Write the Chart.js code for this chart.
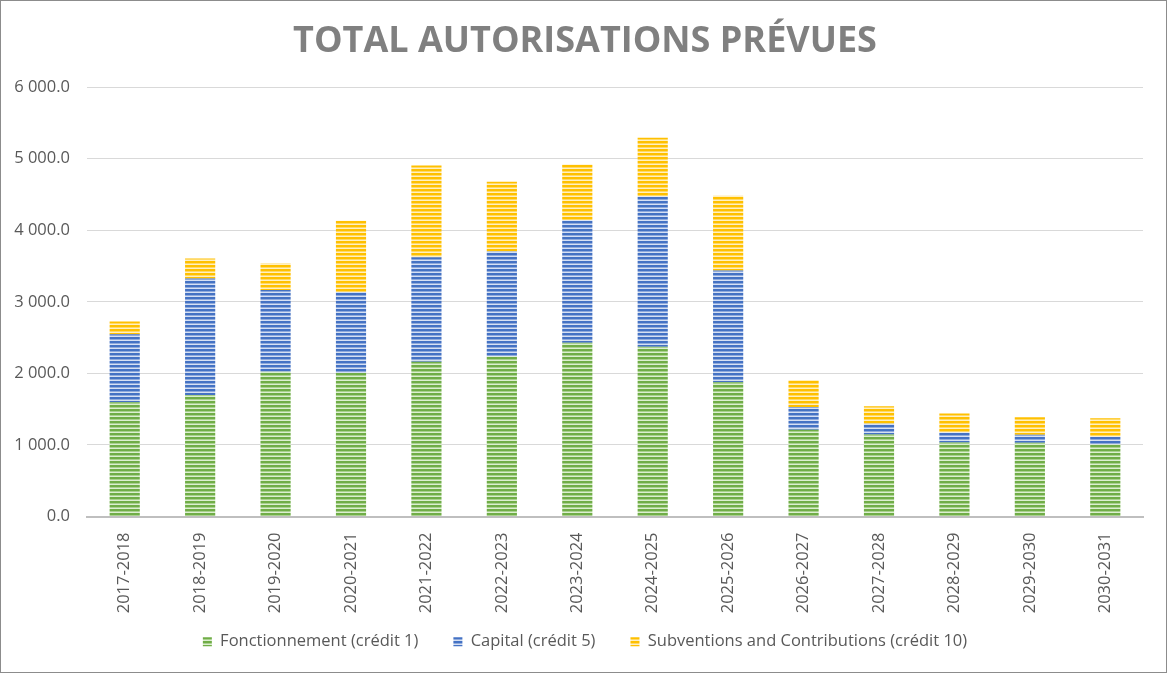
<!DOCTYPE html>
<html>
<head>
<meta charset="utf-8">
<script src="https://cdn.jsdelivr.net/npm/chart.js@4"></script>
<style>
  body { margin: 0; background: #fff; }
  #wrap { width: 1167px; height: 673px; box-sizing: border-box; border: 1px solid #8c8c8c; }
</style>
</head>
<body>
<div id="wrap"><canvas id="chart" width="1165" height="671"></canvas></div>
<script>
const periods = ['2017-2018', '2018-2019', '2019-2020', '2020-2021', '2021-2022', '2022-2023', '2023-2024',
    '2024-2025', '2025-2026', '2026-2027', '2027-2028', '2028-2029', '2029-2030', '2030-2031'];
const fonctionnement = [1597, 1698, 2023, 2005, 2162, 2237, 2427, 2371, 1875, 1211, 1146, 1035, 1030, 1007];
const capital = [951, 1629, 1142, 1132, 1462, 1466, 1712, 2102, 1564, 320, 149, 139, 111, 107];
const subventions = [177, 279, 371, 998, 1281, 975, 779, 822, 1044, 376, 246, 265, 247, 260];
const yTicks = [0, 1000, 2000, 3000, 4000, 5000, 6000];

// horizontal stripe fill, like the Excel pattern
function stripes(base, mid, light) {
    const c = document.createElement('canvas');
    c.width = 1;
    c.height = 4;
    const g = c.getContext('2d');
    g.fillStyle = base; g.fillRect(0, 0, 1, 2);
    g.fillStyle = mid; g.fillRect(0, 2, 1, 1);
    g.fillStyle = light; g.fillRect(0, 3, 1, 1);
    return g.createPattern(c, 'repeat');
}

function fmt(v) {
    return String(Math.round(v)).replace(/\B(?=(\d{3})+(?!\d))/g, ' ') + '.0';
}

// the rotated x labels run past the axis box, so don't clip them
const noLabelClip = {
    id: 'noLabelClip',
    beforeDraw(chart) {
        chart.scales.x._computeLabelArea = () => undefined;
    }
};

const grey = '#595959';
const ctx = document.querySelector('#chart').getContext('2d');

new Chart(ctx, {
    type: 'bar',
    data: {
        labels: periods,
        datasets: [
            {
                label: 'Fonctionnement (crédit 1)',
                data: fonctionnement,
                backgroundColor: stripes('#70ad47', '#a9d18e', '#dcefd0')
            },
            {
                label: 'Capital (crédit 5)',
                data: capital,
                backgroundColor: stripes('#4472c4', '#8faadc', '#d6e0f3')
            },
            {
                label: 'Subventions and Contributions (crédit 10)',
                data: subventions,
                backgroundColor: stripes('#ffc000', '#ffd966', '#fff0c2')
            }
        ]
    },
    plugins: [noLabelClip],
    options: {
        responsive: false,
        animation: false,
        categoryPercentage: 1,
        barPercentage: 0.4,
        layout: { padding: { left: 3, right: 0, top: 0, bottom: 12 } },
        plugins: {
            title: {
                display: true,
                text: 'TOTAL AUTORISATIONS PRÉVUES',
                color: '#808080',
                font: { family: 'Open Sans', size: 36, weight: 'bold' },
                padding: { top: 19, bottom: 24 }
            },
            legend: {
                position: 'bottom',
                labels: {
                    boxWidth: 9,
                    boxHeight: 9,
                    padding: 35,
                    color: grey,
                    font: { family: 'Open Sans', size: 16.5 }
                }
            },
            tooltip: { enabled: false }
        },
        scales: {
            x: {
                stacked: true,
                grid: { display: false },
                border: { color: '#bfbfbf', width: 2 },
                ticks: {
                    color: grey,
                    font: { family: 'Open Sans', size: 16.5 },
                    minRotation: 90,
                    maxRotation: 90,
                    padding: 8
                },
                afterFit: s => { s.height = 82; }
            },
            y: {
                stacked: true,
                min: 0,
                max: 6000,
                afterBuildTicks: s => { s.ticks = yTicks.map(v => ({ value: v })); },
                grid: { color: '#d9d9d9', drawTicks: false },
                border: { display: false },
                ticks: {
                    color: grey,
                    font: { family: 'Open Sans', size: 16.5 },
                    padding: 17,
                    callback: v => fmt(v)
                },
                afterFit: s => { s.width = 83; }
            },
            // empty right axis, only keeps the plot off the right edge
            yRight: {
                position: 'right',
                grid: { display: false, drawTicks: false },
                border: { display: false },
                ticks: { display: false },
                afterFit: s => { s.width = 23; }
            }
        }
    }
});
</script>
</body>
</html>
